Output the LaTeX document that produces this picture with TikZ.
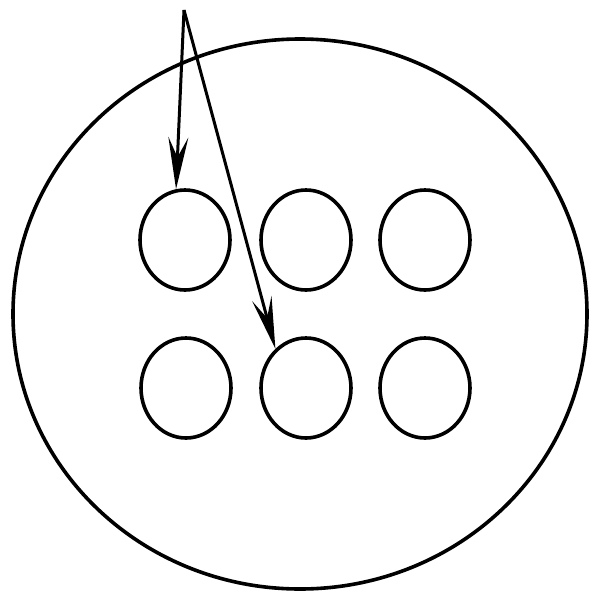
\documentclass[tikz,border=0pt]{standalone}
\usetikzlibrary{shapes.geometric,arrows.meta}
\begin{document}
\begin{tikzpicture}[x=1pt,y=-1pt,
  hole/.style={draw,ellipse,line width=3.6pt,inner sep=0pt,minimum width=90pt,minimum height=100pt},
  pointer/.style={line width=3pt,-{Stealth[length=52pt,width=20pt,inset=20pt]}}]
\useasboundingbox (0,0) rectangle (592,592);
\fill[white] (0,0) rectangle (592,592);
\draw[line width=3.6pt] (300,314) ellipse [x radius=287, y radius=275];
\node[hole] (c11) at (185,240) {};
\node[hole] (c12) at (306,240) {};
\node[hole] (c13) at (425,240) {};
\node[hole] (c21) at (186,388) {};
\node[hole] (c22) at (306,388) {};
\node[hole] (c23) at (425,388) {};
\coordinate (apex) at (184,10);
\draw[pointer] (apex) -- (c11.100);
\draw[pointer] (apex) -- (c22.128);
\end{tikzpicture}
\end{document}
